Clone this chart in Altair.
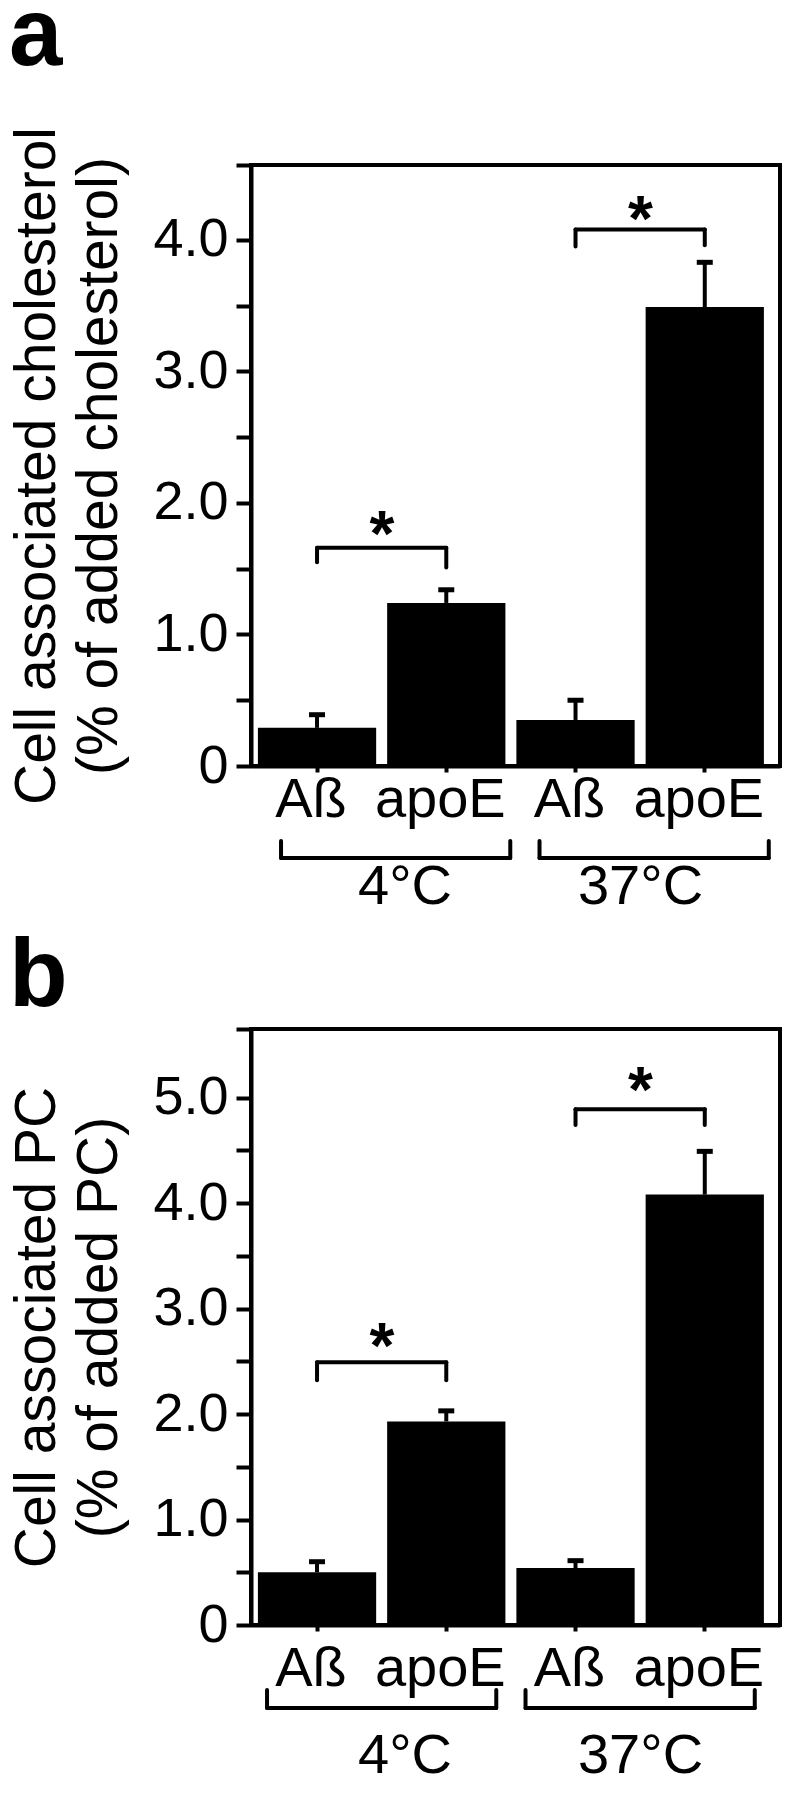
import altair as alt
import pandas as pd

FONT = "Liberation Sans"

# categories (bar label | temperature group)
CATS = ["Aß|4°C", "apoE|4°C", "Aß|37°C", "apoE|37°C"]

# panel a: cholesterol
A_MEAN = [0.29, 1.24, 0.35, 3.49]
A_ERR_TOP = [0.39, 1.34, 0.50, 3.83]
A_TICKS = [0, 0.5, 1.0, 1.5, 2.0, 2.5, 3.0, 3.5, 4.0]
A_YMAX = 4.57
A_TITLE = ["Cell associated cholesterol", "(% of added cholesterol)"]

# panel b: PC
B_MEAN = [0.50, 1.93, 0.54, 4.08]
B_ERR_TOP = [0.60, 2.03, 0.61, 4.49]
B_TICKS = [0, 0.5, 1.0, 1.5, 2.0, 2.5, 3.0, 3.5, 4.0, 4.5, 5.0]
B_YMAX = 5.65
B_TITLE = ["Cell associated PC", "(% of added PC)"]

# significance brackets
SIG_LEFT = ["Aß|4°C", "Aß|37°C"]
SIG_RIGHT = ["apoE|4°C", "apoE|37°C"]
A_SIG_LEVEL = [1.66, 4.08]
A_SIG_LEFT_END = [1.55, 3.95]
A_SIG_RIGHT_END = [1.51, 3.96]
A_STAR = [1.88, 4.27]
B_SIG_LEVEL = [2.49, 4.89]
B_SIG_LEFT_END = [2.32, 4.74]
B_SIG_RIGHT_END = [2.32, 4.74]
B_STAR = [2.79, 5.21]

# temperature groups
GROUP_LABELS = ["4°C", "37°C"]
GROUP_FIRST = ["Aß|4°C", "Aß|37°C"]
GROUP_LAST = ["apoE|4°C", "apoE|37°C"]

PLOT_W = 529


def xscale():
    return alt.Scale(domain=CATS, paddingInner=0.085, paddingOuter=0.089, align=0.3)


def panel(letter, means, errtops, ticks, ymax, title, sig_level, sig_le, sig_re,
          stars, height, lab_pad, br_y, leg_y, grp_y, br_off, grp_dx, title_off):
    df = pd.DataFrame({"cat": CATS, "mean": means, "err": errtops})
    sig = pd.DataFrame({"left": SIG_LEFT, "right": SIG_RIGHT, "level": sig_level,
                        "le": sig_le, "re": sig_re, "star": stars})
    grp = pd.DataFrame({"first": GROUP_FIRST, "last": GROUP_LAST, "label": GROUP_LABELS})

    yscale = alt.Scale(domain=[0, ymax], nice=False, zero=True)
    tick_vals = ticks + [ymax]
    yaxis = alt.Axis(
        values=tick_vals,
        labelExpr="datum.value % 1 == 0 ? (datum.value == 0 ? '0' : format(datum.value, '.1f')) : ''",
        title=title, titleFont=FONT, titleFontSize=57, titleFontWeight="normal",
        titleLineHeight=62, titlePadding=24, titleColor="black",
        labelFont=FONT, labelFontSize=54, labelColor="black", labelPadding=8,
        tickSize=15, tickWidth=4, tickColor="black",
        domainWidth=4, domainColor="black", grid=False,
    )
    xaxis = alt.Axis(
        title=None, labelExpr="split(datum.label, '|')[0]", labelAngle=0,
        labelFont=FONT, labelFontSize=56, labelColor="black", labelPadding=lab_pad,
        labelOffset=-6,
        tickSize=6, tickWidth=4, tickColor="black", domainWidth=4, domainColor="black",
    )

    base = alt.Chart(df)
    bars = base.mark_bar(color="black").encode(
        x=alt.X("cat:N", scale=xscale(), axis=xaxis, sort=CATS),
        y=alt.Y("mean:Q", scale=yscale, axis=yaxis),
    )
    stems = base.mark_rule(color="black", strokeWidth=4).encode(
        x=alt.X("cat:N", scale=xscale()), y="mean:Q", y2="err:Q")
    caps = base.mark_tick(color="black", size=16, thickness=5, opacity=1).encode(
        x=alt.X("cat:N", scale=xscale()), y="err:Q")

    sb = alt.Chart(sig)
    sig_h = sb.mark_rule(color="black", strokeWidth=4, strokeCap="round").encode(
        x=alt.X("left:N", scale=xscale()), x2="right:N", y="level:Q")
    sig_l = sb.mark_rule(color="black", strokeWidth=4, strokeCap="round").encode(
        x=alt.X("left:N", scale=xscale()), y="level:Q", y2="le:Q")
    sig_r = sb.mark_rule(color="black", strokeWidth=4, strokeCap="round").encode(
        x=alt.X("right:N", scale=xscale()), y="level:Q", y2="re:Q")
    star = sb.mark_text(text="*", font=FONT, fontSize=64, fontWeight="bold",
                        color="black", dx=65, dy=37, baseline="alphabetic").encode(
        x=alt.X("left:N", scale=xscale()), y="star:Q")

    gb = alt.Chart(grp)
    g_h = gb.mark_rule(color="black", strokeWidth=4, strokeCap="round",
                       xOffset=br_off[0], x2Offset=br_off[1]).encode(
        x=alt.X("first:N", scale=xscale()), x2="last:N", y=alt.value(br_y))
    g_l = gb.mark_rule(color="black", strokeWidth=4, strokeCap="round",
                       xOffset=br_off[0]).encode(
        x=alt.X("first:N", scale=xscale()), y=alt.value(leg_y), y2=alt.value(br_y))
    g_r = gb.mark_rule(color="black", strokeWidth=4, strokeCap="round",
                       xOffset=br_off[1]).encode(
        x=alt.X("last:N", scale=xscale()), y=alt.value(leg_y), y2=alt.value(br_y))
    g_txt = []
    for i, lab in enumerate(GROUP_LABELS):
        g_txt.append(
            gb.transform_filter(alt.datum.label == lab).mark_text(
                font=FONT, fontSize=56, color="black", baseline="middle",
                align="center", dx=grp_dx[i]).encode(
                x=alt.X("first:N", scale=xscale()), y=alt.value(grp_y), text="label:N")
        )

    return alt.layer(bars, stems, caps, sig_h, sig_l, sig_r, star, g_h, g_l, g_r,
                     *g_txt).properties(
        width=PLOT_W, height=height,
        title=alt.TitleParams(letter, anchor="start", frame="bounds", font=FONT,
                              fontSize=96, fontWeight="bold", color="black",
                              offset=title_off),
    )


pa = panel("a", A_MEAN, A_ERR_TOP, A_TICKS, A_YMAX, A_TITLE, A_SIG_LEVEL,
           A_SIG_LEFT_END, A_SIG_RIGHT_END, A_STAR, 601, 0, 693, 676, 722,
           (-36, 64), (88, 65), 41)
pb = panel("b", B_MEAN, B_ERR_TOP, B_TICKS, B_YMAX, B_TITLE, B_SIG_LEVEL,
           B_SIG_LEFT_END, B_SIG_RIGHT_END, B_STAR, 596, 10, 679, 661, 727,
           (-50, 50), (88, 65), 1)

chart = alt.vconcat(
    pa, pb, spacing=10,
    padding={"top": -22, "left": -2, "right": 0, "bottom": 0},
).configure_view(stroke="black", strokeWidth=4)

chart.save("out.html", embed_options={"renderer": "svg", "actions": False})
